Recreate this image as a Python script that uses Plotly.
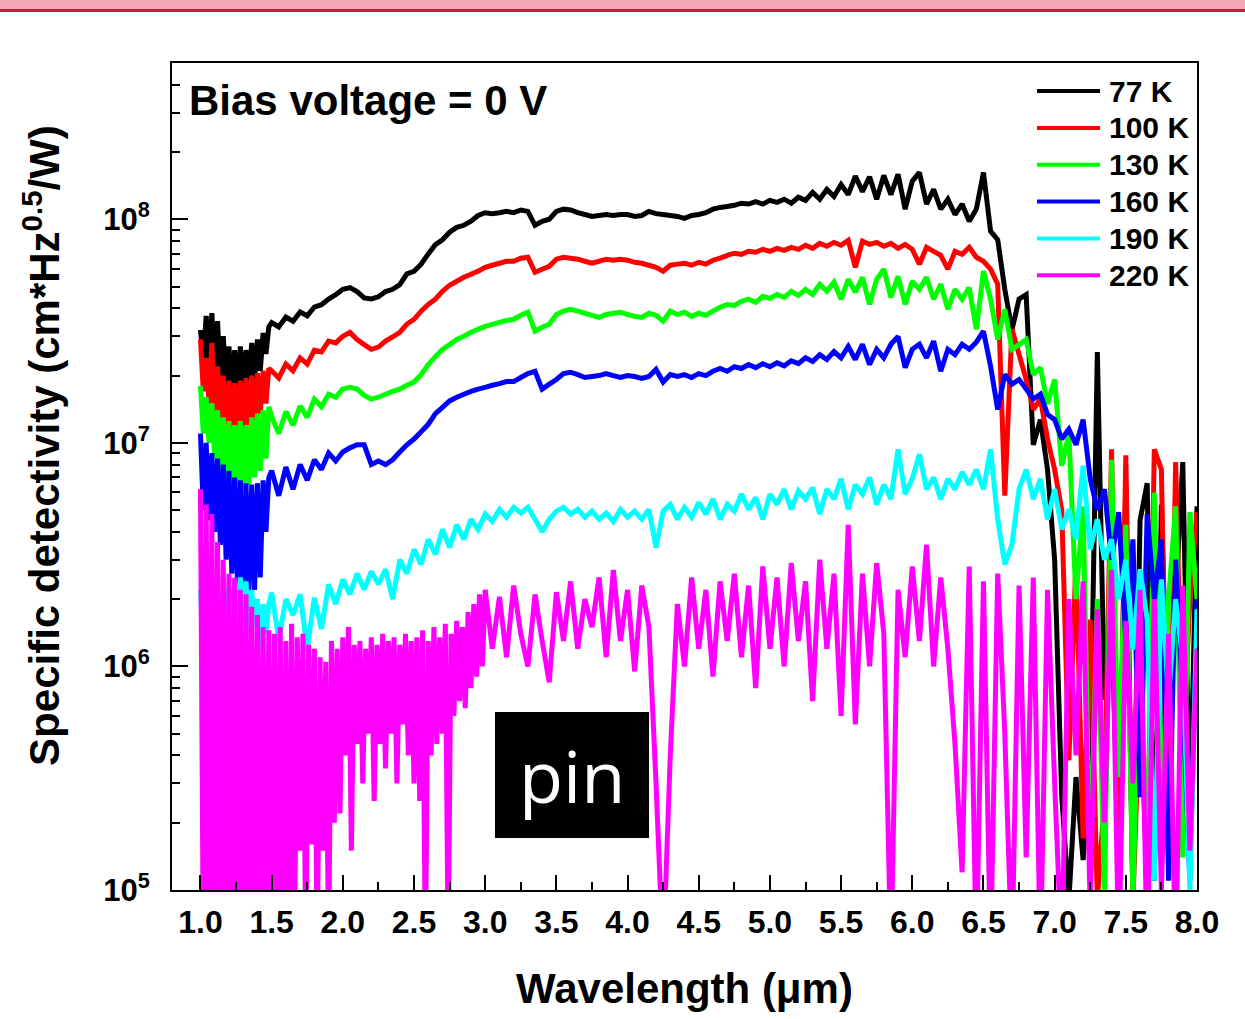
import plotly.graph_objects as go

UNIT = 1e6  # values below are D* in units of 1e6 cm*Hz^0.5/W


def grid(start, stop, step):
    n = int(round((stop - start) / step)) + 1
    return [round(start + i * step, 3) for i in range(n)]


# wavelength sampling (um)
WL_FINE = grid(1.00, 1.48, 0.02)     # 25 points (noisy short-wave edge)
WL_MAIN = grid(1.50, 8.00, 0.05)     # 131 points
WL_M_FINE = grid(1.00, 2.98, 0.02)   # 100 points (220 K)
WL_M_MAIN = grid(3.00, 8.00, 0.05)   # 101 points (220 K)

NAMES = ["77 K", "100 K", "130 K", "160 K", "190 K", "220 K"]
COLORS = ["#000000", "#ff0000", "#00ff00", "#0000ff", "#00ffff", "#ff00ff"]

# ---- 77 K ----
d77_fine = [32, 24, 37, 22, 38, 20, 35, 18, 30, 17, 27, 16.5, 26, 16, 27, 17, 26, 18, 28, 19,
            29, 21, 31, 25, 33]
d77_main = [34.5, 33.0, 36.5, 35.0, 38.5, 37.0, 40.5, 41.5, 44.0, 46.0,
            48.6, 49.5, 47.5, 44.5, 44.0, 45.0, 47.5, 48.6, 51.0, 57.0,
            58.5, 63.0, 70.0, 77.0, 81.0, 87.5, 92.0, 94.0, 98.0, 104,
            107, 106, 107, 108.5, 107, 110, 108.5, 94, 98, 100,
            108.5, 111, 110, 107, 105, 103, 104, 105, 104, 105,
            105, 103, 104, 108.5, 106, 105, 104, 103, 101, 104,
            105, 107, 111, 113, 114, 115.5, 118, 117, 120, 117,
            121.5, 119, 123, 118, 125.5, 121.5, 132, 123, 136, 126.5,
            143, 129, 156, 133, 155, 123, 157, 129, 159, 111,
            148, 162, 117, 136, 111, 123, 105, 117, 98, 111,
            162, 88.5, 81, 48.6, 32, 44, 46, 9.8, 12.7, 7.6,
            3.0, 0.26, 0.09, 0.32, 0.136, 0.38, 25.5, 0.71, 1.62, 0.15,
            6.6, 0.09, 4.5, 6.6, 0.11, 5.3, 0.38, 2.0, 8.2, 0.21,
            5.2]

# ---- 100 K ----
d100_fine = [29, 17, 24, 15, 28, 13, 22, 12, 20, 11.5, 19, 11, 18.5, 11.5, 19, 11, 19.5, 12, 20, 12.5,
             20.5, 13.5, 21, 15, 21.5]
d100_main = [21, 19.5, 22.5, 21, 24, 22.5, 26, 25.5, 28.5, 28,
             30, 31.2, 29, 27.5, 26.2, 26.8, 28.5, 29.8, 31.2, 34,
             35.7, 38.8, 41.6, 43.9, 47.6, 50.7, 52.8, 55, 56.8, 58.6,
             61, 62.3, 63.6, 64.9, 64.9, 67, 67.6, 57.9, 59.8, 61.6,
             66.3, 67.6, 67, 66.3, 64.9, 63.6, 64.9, 66.3, 65.6, 66.3,
             65.6, 64.2, 63.6, 62.3, 61, 58.6, 62.3, 63, 63.6, 62.3,
             64.2, 63, 65.6, 67, 69, 70.5, 69.7, 71.9, 71.2, 73.4,
             71.9, 74.1, 72.6, 74.9, 73.4, 76.5, 74.1, 78, 75.7, 78.8,
             76.5, 80.5, 61, 79.7, 77.2, 78.8, 75.7, 78, 74.1, 77.2,
             73.4, 62.9, 74.9, 71.9, 69, 59.8, 71.9, 69.7, 74.9, 67.6,
             64.9, 59.8, 51.3, 5.8, 32.2, 24.9, 19.2, 14.1, 15.7, 10.4,
             7.6, 5.0, 0.38, 3.0, 0.17, 1.62, 0.09, 0.26, 9.35, 0.11,
             8.8, 0.09, 0.71, 0.11, 9.35, 7.6, 0.136, 8.2, 0.42, 2.0,
             4.9]

# ---- 130 K ----
d130_fine = [18, 11, 16, 10, 15, 8.5, 14, 7.5, 13, 6.5, 12.5, 6, 12, 6, 12.5, 6.2, 12, 6.5, 13, 7,
             13.5, 7.5, 14, 8.5, 14.5]
d130_main = [13.1, 11, 13.8, 12, 14.6, 13, 15.7, 14.5, 16.5, 16,
             17.4, 17.7, 17.4, 16.3, 15.7, 16, 16.5, 17, 17.4, 18.1,
             18.7, 20.2, 22.4, 24.3, 26.2, 27.5, 29, 30, 31.2, 32.2,
             33.2, 33.9, 34.6, 35.3, 35.7, 37.2, 38.4, 31.6, 32.9, 33.9,
             37.5, 38.8, 39.6, 38.8, 38, 37.2, 36.4, 37.5, 38, 38.4,
             37.5, 36.8, 36.4, 38, 37.2, 35, 38.8, 37.5, 38.4, 36.8,
             38, 37.2, 38.8, 40.4, 41.6, 41.2, 43, 43.9, 42.5, 45.2,
             44.3, 46.1, 44.7, 47.6, 45.6, 48.6, 46.1, 51.2, 47.6, 52.3,
             43.9, 53.9, 47.2, 55, 41.6, 53.9, 59.8, 44.7, 55.6, 41.6,
             52.8, 48.6, 55, 43.9, 51.2, 39.6, 48.6, 43.9, 49.5, 32.2,
             58.6, 43.9, 29, 39.6, 26.2, 27.5, 29, 20.2, 21.7, 14.9,
             19.2, 7.9, 11, 2.0, 5.2, 0.11, 2.0, 0.09, 8.4, 0.32,
             4.3, 0.09, 1.6, 0.11, 6.0, 0.26, 2.0, 5.2, 0.14, 4.9,
             2.0]

# ---- 160 K ----
d160_fine = [11, 5, 10, 4.5, 9, 4, 8.5, 3.5, 8, 3, 7.5, 2.6, 7, 2.3, 6.8, 2.2, 6.6, 2.1, 6.5, 2.2,
             6.6, 2.5, 6.8, 4, 7]
d160_main = [7.5, 5.8, 7.8, 6.2, 8.0, 6.8, 8.4, 7.6, 9.0, 8.3,
             9.1, 9.5, 9.8, 9.8, 8.0, 8.3, 8.0, 8.4, 9.1, 9.8,
             10.4, 11.2, 12.1, 13.5, 14.4, 15.4, 16, 16.5, 17, 17.4,
             17.7, 18.1, 18.4, 18.8, 18.8, 19.6, 20.4, 20.9, 17.4, 18.3,
             19.2, 20.4, 20.7, 20.2, 19.6, 19.8, 20, 20.4, 20, 19.6,
             20, 19.8, 19.4, 19.8, 21.3, 18.7, 20.2, 19.8, 20.2, 19.6,
             20.4, 20, 20.9, 21.5, 20.9, 21.9, 21.5, 22.4, 21.7, 22.6,
             21.9, 22.8, 22.1, 23.3, 22.6, 24, 23.1, 24.8, 23.6, 25.6,
             24, 27, 23.6, 27.6, 22.4, 26.2, 24, 27.6, 29.9, 21.7,
             26.2, 27.6, 24, 28.5, 20.9, 26.2, 24.8, 27.6, 26.2, 28.2,
             31.6, 22, 14.1, 20.2, 18.3, 19.2, 17.4, 15.7, 16.5, 13.4,
             12.7, 10.4, 11.5, 9.8, 12.7, 6.9, 5.0, 6.2, 3.0, 4.9,
             1.3, 3.7, 0.26, 4.8, 2.0, 3.7, 0.11, 3.0, 0.71, 0.11,
             2.0]

# ---- 190 K ----
d190_fine = [2.2, 1.2, 2.0, 1.1, 2.2, 1.2, 2.0, 1.3, 2.2, 1.4, 2.3, 1.3, 2.4, 1.5, 2.5, 1.6, 2.4, 1.4,
             2.2, 1.5, 2.0, 1.2, 1.9, 1.4, 1.9]
d190_main = [2.14, 1.32, 2.0, 1.7, 2.1, 1.19, 2.03, 1.47, 2.33, 1.9,
             2.45, 2.1, 2.6, 2.21, 2.66, 2.33, 2.72, 2.0, 3.0, 2.6,
             3.34, 2.86, 3.7, 3.17, 4.1, 3.4, 4.3, 3.7, 4.55, 4.1,
             4.8, 4.45, 5.04, 4.65, 5.15, 4.85, 5.15, 4.55, 4.0, 4.55,
             4.95, 5.15, 4.8, 5.04, 4.65, 4.95, 4.55, 4.85, 4.45, 5.04,
             4.65, 4.95, 4.55, 5.04, 3.4, 4.95, 5.3, 4.55, 5.15, 4.65,
             5.4, 4.8, 5.6, 4.55, 5.3, 4.95, 5.9, 5.04, 5.7, 4.55,
             5.9, 5.3, 6.2, 5.04, 6.1, 5.6, 6.3, 4.8, 6.2, 5.6,
             6.9, 5.04, 6.5, 5.9, 7.0, 5.3, 6.5, 5.6, 9.35, 5.9,
             6.9, 8.9, 6.2, 7.0, 5.6, 6.9, 6.2, 7.4, 6.5, 7.6,
             6.2, 9.35, 4.55, 2.86, 3.5, 6.2, 7.6, 5.6, 6.9, 4.55,
             6.2, 4.1, 5.04, 3.7, 7.9, 3.34, 4.55, 3.0, 3.7, 2.0,
             3.0, 1.19, 2.72, 1.62, 0.11, 2.45, 0.71, 2.0, 1.07, 0.10,
             1.8]

# ---- 220 K ----
d220_fine = [6.2, 0.05, 5.3, 0.05, 4.8, 0.05, 3.6, 0.05, 3.0, 0.05,
             2.6, 0.05, 2.5, 0.05, 2.2, 0.05, 2.1, 0.05, 1.85, 0.05,
             1.7, 0.05, 1.5, 0.05, 1.45, 0.05, 1.4, 0.05, 1.5, 0.05,
             1.3, 0.05, 1.55, 0.05, 1.35, 0.15, 1.4, 0.05, 1.25, 0.16,
             1.2, 0.05, 1.1, 0.15, 1.05, 0.05, 1.3, 0.2, 1.2, 0.22,
             1.35, 0.4, 1.5, 0.15, 1.25, 0.45, 1.3, 0.3, 1.2, 0.5,
             1.35, 0.25, 1.25, 0.45, 1.4, 0.35, 1.3, 0.5, 1.35, 0.3,
             1.25, 0.55, 1.4, 0.4, 1.3, 0.3, 1.35, 0.25, 1.45, 0.05,
             1.3, 0.4, 1.5, 0.45, 1.35, 0.5, 1.55, 0.05, 1.4, 0.6,
             1.6, 0.7, 1.5, 0.65, 1.75, 0.8, 1.9, 0.9, 2.1, 1.0]
d220_main = [2.2, 1.2, 2.05, 1.1, 2.3, 1.4, 1.0, 2.1, 1.3, 0.85,
             2.15, 1.3, 2.4, 1.2, 2.0, 1.5, 2.5, 1.1, 2.7, 1.3,
             2.2, 0.95, 2.3, 1.5, 0.3, 0.05, 0.4, 1.9, 1.0, 2.5,
             1.2, 2.2, 0.9, 2.4, 1.3, 2.6, 1.1, 2.3, 0.8, 2.8,
             1.2, 2.5, 1.0, 2.9, 1.3, 2.4, 0.7, 3.0, 1.2, 2.6,
             0.6, 4.3, 0.55, 2.6, 1.0, 2.9, 1.4, 0.05, 2.2, 1.1,
             2.8, 1.3, 3.5, 1.0, 2.5, 1.2, 0.45, 0.12, 2.8, 0.05,
             2.4, 0.05, 2.6, 0.5, 0.05, 2.3, 0.14, 2.5, 0.05, 2.2,
             0.3, 0.05, 2.0, 0.4, 2.4, 0.08, 1.8, 0.2, 2.7, 0.05,
             1.6, 0.3, 2.2, 0.05, 2.0, 0.1, 1.4, 0.05, 2.3, 0.15,
             1.2]

SERIES = [
    (WL_FINE + WL_MAIN, d77_fine + d77_main),
    (WL_FINE + WL_MAIN, d100_fine + d100_main),
    (WL_FINE + WL_MAIN, d130_fine + d130_main),
    (WL_FINE + WL_MAIN, d160_fine + d160_main),
    (WL_FINE + WL_MAIN, d190_fine + d190_main),
    (WL_M_FINE + WL_M_MAIN, d220_fine + d220_main),
]
for (xs, ys), nm in zip(SERIES, NAMES):
    assert len(xs) == len(ys), (nm, len(xs), len(ys))

X_TICKS = grid(1.0, 8.0, 0.5)
Y_TICKS = [1e5, 1e6, 1e7, 1e8]
Y_TICKTEXT = ["10<sup>5</sup>", "10<sup>6</sup>", "10<sup>7</sup>", "10<sup>8</sup>"]
Y_MINOR = [m * 10 ** e for e in range(5, 9) for m in range(2, 10)]

FONT = "Liberation Sans, Arial, sans-serif"

fig = go.Figure()
for (xs, ys), nm, col in zip(SERIES, NAMES, COLORS):
    fig.add_trace(go.Scatter(
        x=xs, y=[v * UNIT for v in ys], mode="lines", name=nm,
        line=dict(color=col, width=5, simplify=False), showlegend=False,
    ))

fig.update_layout(
    width=1245, height=1019,
    margin=dict(l=172, r=48, t=63, b=129),
    plot_bgcolor="white", paper_bgcolor="white",
    font=dict(family=FONT, color="black"),
    showlegend=False,
)

fig.update_xaxes(
    range=[0.8, 8.0], tickvals=X_TICKS, ticktext=["%.1f" % v for v in X_TICKS],
    ticks="inside", ticklen=15, tickwidth=2, tickcolor="black",
    minor=dict(ticks="inside", ticklen=8, tickwidth=2, tickcolor="black",
               tickvals=grid(1.25, 7.75, 0.5)),
    showline=True, linewidth=2, linecolor="black", mirror=True,
    showgrid=False, zeroline=False,
    tickfont=dict(size=32, family=FONT, weight="bold"),
    ticklabelstandoff=3,
    title=dict(text="Wavelength (\u03bcm)", font=dict(size=42, family=FONT, weight="bold"),
               standoff=34),
)
fig.update_yaxes(
    type="log", range=[5, 8.699],
    tickvals=Y_TICKS, ticktext=Y_TICKTEXT,
    ticks="inside", ticklen=16, tickwidth=2, tickcolor="black",
    minor=dict(ticks="inside", ticklen=8, tickwidth=2, tickcolor="black", tickvals=Y_MINOR),
    showline=True, linewidth=2, linecolor="black", mirror=True,
    showgrid=False, zeroline=False,
    tickfont=dict(size=31, family=FONT, weight="bold"),
    ticklabelstandoff=14,
)

shapes = [
    # header band
    dict(type="rect", xref="paper", yref="paper", x0=-0.2, x1=1.1, y0=1.0653, y1=1.1,
         fillcolor="#f2a6b6", line=dict(width=0), layer="above"),
    dict(type="rect", xref="paper", yref="paper", x0=-0.2, x1=1.1, y0=1.0617, y1=1.0653,
         fillcolor="#d4143e", line=dict(width=0), layer="above"),
    # "pin" label box
    dict(type="rect", xref="paper", yref="paper", x0=0.3151, x1=0.4654, y0=0.0629, y1=0.2152,
         fillcolor="black", line=dict(width=0), layer="above"),
]
annotations = [
    dict(text="Specific detectivity (cm*Hz<sup>0.5</sup>/W)", xref="paper", yref="paper",
         x=-0.127, y=0.538, xanchor="center", yanchor="middle", textangle=-90, showarrow=False,
         font=dict(size=42, family=FONT, weight="bold", color="black")),
    dict(text="Bias voltage = 0 V", xref="paper", yref="paper", x=0.0146, y=0.955,
         xanchor="left", yanchor="middle", showarrow=False,
         font=dict(size=42, family=FONT, weight="bold", color="black")),
    dict(text="pin", xref="paper", yref="paper", x=0.3902, y=0.139,
         xanchor="center", yanchor="middle", showarrow=False,
         font=dict(size=72, family="Open Sans, Liberation Sans, sans-serif", color="white")),
]
# legend (drawn as lines + labels)
for i, (nm, col) in enumerate(zip(NAMES, COLORS)):
    yy = 0.9661 - i * 0.04455
    shapes.append(dict(type="line", xref="paper", yref="paper", x0=0.8439, x1=0.9054,
                       y0=yy, y1=yy, line=dict(color=col, width=4)))
    annotations.append(dict(text=nm, xref="paper", yref="paper", x=0.9122, y=yy,
                            xanchor="left", yanchor="middle", showarrow=False,
                            font=dict(size=30, family=FONT, weight="bold", color="black")))

fig.update_layout(shapes=shapes, annotations=annotations)
fig.write_html("out.html")
